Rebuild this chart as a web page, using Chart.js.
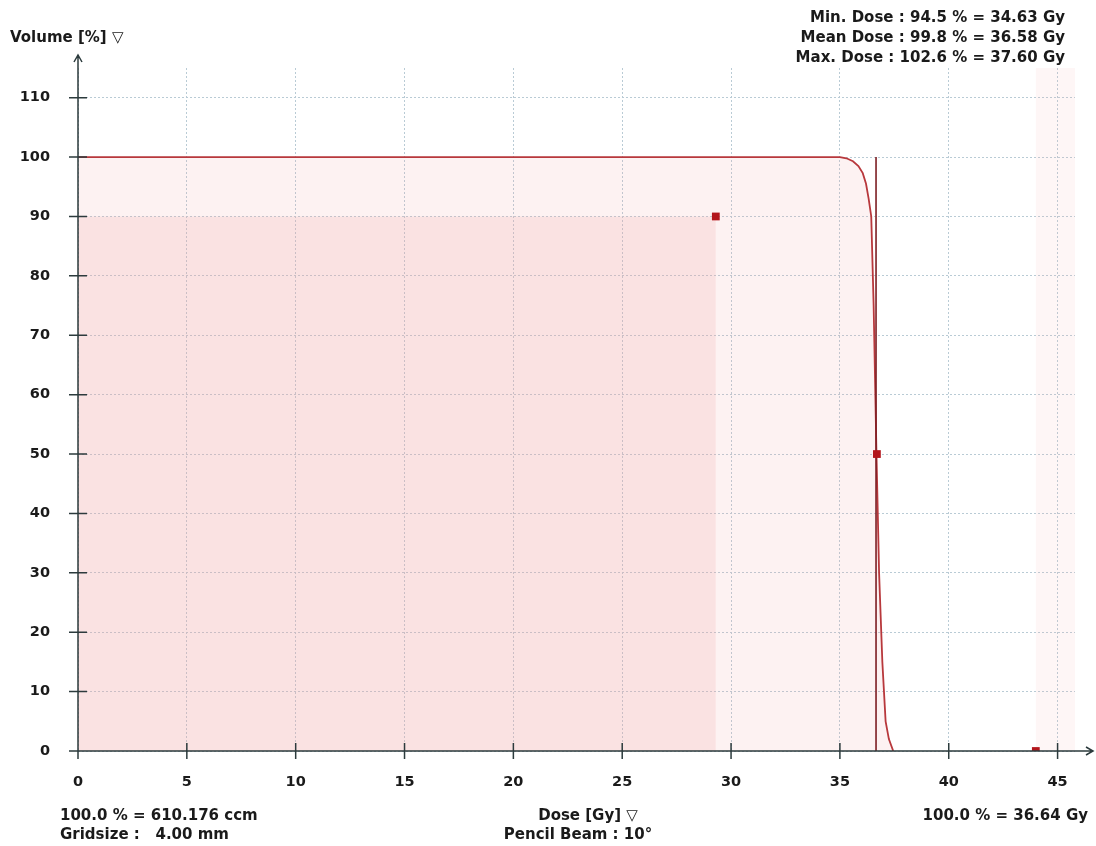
<!DOCTYPE html>
<html lang="en">
<head>
  <meta charset="UTF-8">
  <title>DVH</title>
  <style>
    html, body { margin: 0; padding: 0; background: #fff; }
    #wrap { position: relative; width: 1096px; height: 846px; }
  </style>
</head>
<body>
  <div id="wrap">
    <canvas id="dvh" width="1096" height="846" role="img" aria-label="Dose volume histogram"></canvas>
  </div>

  <script src="https://cdnjs.cloudflare.com/ajax/libs/Chart.js/4.4.1/chart.umd.js"></script>
  <script>
    // tick values
    const xTicks = [0, 5, 10, 15, 20, 25, 30, 35, 40, 45];
    const yTicks = [0, 10, 20, 30, 40, 50, 60, 70, 80, 90, 100, 110];

    // cumulative DVH curve (dose Gy, volume %)
    const curveDose = [0, 35.0, 35.3, 35.6, 35.85, 36.05, 36.2, 36.32, 36.44, 36.55, 36.68, 36.8, 36.95, 37.1, 37.25, 37.45];
    const curveVol  = [100, 100, 99.8, 99.3, 98.5, 97.3, 95.5, 93, 90, 75, 50, 30, 15, 5, 2, 0];

    // reference dose line (100 % = 36.64 Gy)
    const refDose = [36.66, 36.66];
    const refVol  = [0, 100];

    // markers
    const markDose = [29.3, 36.7, 44.0];
    const markVol  = [90, 50, 0];

    // shaded regions
    const rectDose = [0, 29.3];
    const rectVol  = [90, 90];
    const bandDose = [44.0, 45.8];
    const bandVol  = [115, 115];

    const topLines = [
      'Min. Dose : 94.5 % = 34.63 Gy',
      'Mean Dose : 99.8 % = 36.58 Gy',
      'Max. Dose : 102.6 % = 37.60 Gy'
    ];

    const pts = (xs, ys) => xs.map((x, i) => ({ x, y: ys[i] }));
    const FAMILY = '"DejaVu Sans", Verdana, sans-serif';
    const FONT = 'bold 15px ' + FAMILY;
    const AXIS = '#2c3b3d';

    const overlay = {
      id: 'overlay',
      afterDatasetsDraw(chart) {
        const { ctx, scales: { x, y } } = chart;
        const x0 = x.getPixelForValue(0), y0 = y.getPixelForValue(0);
        ctx.save();
        ctx.strokeStyle = AXIS;
        ctx.lineWidth = 1.5;
        ctx.beginPath();
        ctx.moveTo(x0, y0 + 7); ctx.lineTo(x0, 55);
        ctx.moveTo(x0 - 8, y0); ctx.lineTo(1093, y0);
        // arrows
        ctx.moveTo(x0 - 4, 62); ctx.lineTo(x0, 55); ctx.lineTo(x0 + 4, 62);
        ctx.moveTo(1086, y0 - 4); ctx.lineTo(1093, y0); ctx.lineTo(1086, y0 + 4);
        // ticks
        xTicks.forEach(v => {
          const px = x.getPixelForValue(v);
          ctx.moveTo(px, y0 - 8); ctx.lineTo(px, y0 + 8);
        });
        yTicks.forEach(v => {
          const py = y.getPixelForValue(v);
          ctx.moveTo(x0 - 9, py); ctx.lineTo(x0 + 9, py);
        });
        ctx.stroke();
        ctx.restore();
      },
      afterDraw(chart) {
        const { ctx } = chart;
        ctx.save();
        ctx.font = FONT;
        ctx.fillStyle = '#1a1a1a';
        ctx.textBaseline = 'middle';
        ctx.textAlign = 'left';
        ctx.fillText('Volume [%] \u25BD', 10, 38);
        ctx.fillText('100.0 % = 610.176 ccm', 60, 816);
        ctx.fillText('Gridsize :   4.00 mm', 60, 835);
        ctx.textAlign = 'right';
        topLines.forEach((t, i) => ctx.fillText(t, 1065, 18 + i * 20));
        ctx.fillText('100.0 % = 36.64 Gy', 1088, 816);
        ctx.textAlign = 'center';
        ctx.fillText('Dose [Gy] \u25BD', 588, 816);
        ctx.fillText('Pencil Beam : 10\u00B0', 578, 835);
        ctx.restore();
      }
    };

    new Chart(document.getElementById('dvh'), {
      type: 'scatter',
      data: {
        datasets: [
          {
            data: pts(markDose, markVol),
            pointStyle: 'rect',
            pointRadius: 5.5,
            backgroundColor: '#b3151b',
            borderColor: '#b3151b',
            borderWidth: 0,
            showLine: false
          },
          {
            data: pts(refDose, refVol),
            showLine: true,
            borderColor: '#7c1d22',
            borderWidth: 1.6,
            pointRadius: 0
          },
          {
            data: pts(curveDose, curveVol),
            showLine: true,
            borderColor: '#b8383c',
            borderWidth: 1.8,
            pointRadius: 0,
            tension: 0,
            fill: 'origin',
            backgroundColor: 'rgba(244,170,170,0.15)'
          },
          {
            data: pts(rectDose, rectVol),
            showLine: true,
            borderWidth: 0,
            borderColor: 'rgba(0,0,0,0)',
            pointRadius: 0,
            fill: 'origin',
            backgroundColor: 'rgba(242,160,160,0.2)'
          },
          {
            data: pts(bandDose, bandVol),
            showLine: true,
            borderWidth: 0,
            borderColor: 'rgba(0,0,0,0)',
            pointRadius: 0,
            fill: 'origin',
            backgroundColor: 'rgba(245,180,180,0.12)'
          }
        ]
      },
      options: {
        responsive: false,
        animation: false,
        events: [],
        layout: { padding: { left: 0, top: 68, right: 21, bottom: 0 } },
        plugins: { legend: { display: false }, tooltip: { enabled: false } },
        scales: {
          x: {
            type: 'linear',
            min: 0,
            max: 45.8,
            afterFit: s => { s.height = 95; },
            afterBuildTicks: s => { s.ticks = xTicks.map(v => ({ value: v })); },
            border: { display: false, dash: [2, 2] },
            grid: { color: '#b9cbd5', lineWidth: 1, drawTicks: false },
            ticks: {
              padding: 23,
              color: '#1a1a1a',
              font: { family: FAMILY, size: 14.5, weight: 'bold' },
              maxRotation: 0
            }
          },
          y: {
            type: 'linear',
            min: 0,
            max: 115,
            afterFit: s => { s.width = 78; },
            afterBuildTicks: s => { s.ticks = yTicks.map(v => ({ value: v })); },
            border: { display: false, dash: [2, 2] },
            grid: { color: '#b9cbd5', lineWidth: 1, drawTicks: false },
            ticks: {
              padding: 28,
              color: '#1a1a1a',
              font: { family: FAMILY, size: 14.5, weight: 'bold' }
            }
          }
        }
      },
      plugins: [overlay]
    });
  </script>
</body>
</html>
